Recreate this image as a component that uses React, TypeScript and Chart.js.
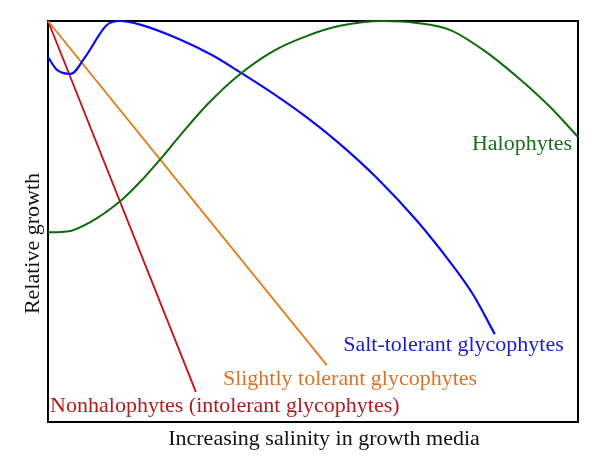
import React, { useEffect, useRef } from "react";
import { Chart, registerables } from "chart.js";

Chart.register(...registerables);

// Series (x: relative salinity 0-100, y: relative growth 0-100)
const nonhaloX = [0, 27.9];
const nonhaloY = [100, 7.5];

const slightX = [0, 52.6];
const slightY = [100, 14.2];

const saltTolX = [0, 1.7, 4.3, 7.0, 11.1, 13.6, 17.4, 24.9, 31.1, 35.8, 42.5, 48.9, 55.1, 62.1, 69.6, 75.8, 80.2, 84.3];
const saltTolY = [91.0, 87.8, 86.8, 91.0, 99.0, 100, 99.1, 95.4, 91.4, 87.6, 81.9, 75.9, 69.3, 60.8, 50.2, 40.0, 31.8, 21.9];

const haloX = [0, 3.6, 7.9, 14.0, 17.4, 21.5, 24.9, 30.0, 35.8, 42.5, 48.9, 55.1, 63.2, 69.6, 75.8, 82.1, 88.5, 94.7, 100];
const haloY = [47.3, 47.5, 49.8, 55.5, 59.9, 66.0, 71.4, 79.1, 86.3, 92.5, 96.3, 98.8, 100, 99.5, 97.8, 92.8, 86.1, 78.6, 71.1];

// In-plot labels
const labelTexts = [
  "Halophytes",
  "Salt-tolerant glycophytes",
  "Slightly tolerant glycophytes",
  "Nonhalophytes (intolerant glycophytes)",
];
const labelX = [98.9, 55.7, 33.0, 0.4];
const labelY = [69.2, 19.2, 10.7, 4.0];
const labelAlign: CanvasTextAlign[] = ["right", "left", "left", "left"];
const labelColors = ["#1d6b1d", "#1a1ad0", "#d97328", "#b31b22"];

const xTitle = "Increasing salinity in growth media";
const yTitle = "Relative growth";

const FONT = '22px "Liberation Serif", "Times New Roman", serif';

function pts(xs: number[], ys: number[]) {
  return xs.map((x, i) => ({ x, y: ys[i] }));
}

const decorPlugin = {
  id: "decor",
  beforeDatasetsDraw(chart: any) {
    const { ctx, chartArea } = chart;
    ctx.save();
    ctx.strokeStyle = "#000";
    ctx.lineWidth = 2;
    ctx.strokeRect(chartArea.left, chartArea.top, chartArea.right - chartArea.left, chartArea.bottom - chartArea.top);
    ctx.restore();
  },
  afterDatasetsDraw(chart: any) {
    const { ctx, chartArea, scales } = chart;
    ctx.save();
    ctx.font = FONT;
    ctx.textBaseline = "middle";
    labelTexts.forEach((t, i) => {
      ctx.fillStyle = labelColors[i];
      ctx.textAlign = labelAlign[i];
      ctx.fillText(t, scales.x.getPixelForValue(labelX[i]), scales.y.getPixelForValue(labelY[i]));
    });
    // axis titles
    ctx.fillStyle = "#111";
    ctx.textAlign = "center";
    ctx.fillText(xTitle, (chartArea.left + chartArea.right) / 2 + 11, chartArea.bottom + 17);
    ctx.translate(chartArea.left - 15, (chartArea.top + chartArea.bottom) / 2 + 22);
    ctx.rotate(-Math.PI / 2);
    ctx.fillText(yTitle, 0, 0);
    ctx.restore();
  },
};

export default function App() {
  const ref = useRef<HTMLCanvasElement>(null);
  useEffect(() => {
    document.body.style.margin = "0";
    const c = ref.current!;
    const mk = (xs: number[], ys: number[], color: string, w: number) => ({
      data: pts(xs, ys),
      borderColor: color,
      backgroundColor: color,
      borderWidth: w,
      showLine: true,
      pointRadius: 0,
      cubicInterpolationMode: "monotone" as const,
      clip: false as any,
    });
    const chart = new Chart(c, {
      type: "scatter",
      data: {
        datasets: [
          mk(haloX, haloY, "#0b6b0b", 2),
          mk(saltTolX, saltTolY, "#0a0af0", 2.2),
          mk(slightX, slightY, "#e0801e", 1.9),
          mk(nonhaloX, nonhaloY, "#bd1620", 1.9),
        ],
      },
      options: {
        animation: false,
        responsive: true,
        maintainAspectRatio: false,
        layout: { padding: { left: 48, top: 21, right: 22, bottom: 53 } },
        plugins: { legend: { display: false }, tooltip: { enabled: false } },
        scales: {
          x: {
            type: "linear",
            min: 0,
            max: 100,
            ticks: { display: false },
            grid: { display: false, drawTicks: false },
            border: { display: false },
          },
          y: {
            type: "linear",
            min: 0,
            max: 100,
            ticks: { display: false },
            grid: { display: false, drawTicks: false },
            border: { display: false },
          },
        },
      },
      plugins: [decorPlugin],
    });
    return () => chart.destroy();
  }, []);
  return (
    <div style={{ width: 600, height: 475, position: "relative", background: "#fff" }}>
      <canvas ref={ref} />
    </div>
  );
}
